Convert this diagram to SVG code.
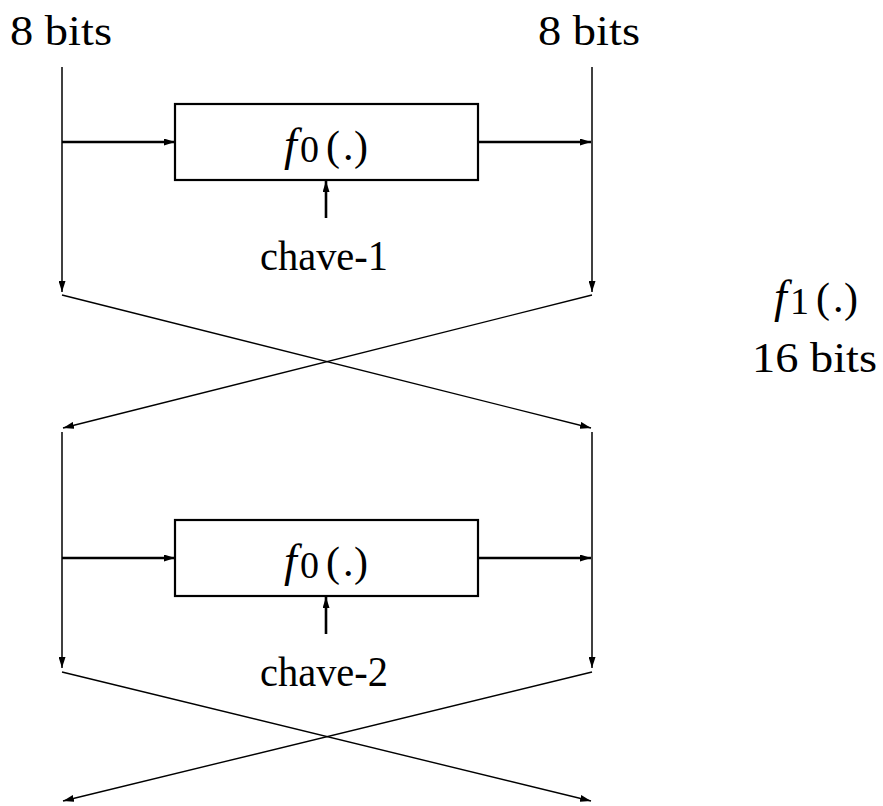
<svg xmlns="http://www.w3.org/2000/svg" width="883" height="806" viewBox="0 0 883 806">
<style>
text{font-family:'Liberation Serif','DejaVu Serif',serif;font-size:42px;fill:#000}
.box{fill:#fff;stroke:#000;stroke-width:2.2}
.thin{fill:none;stroke:#000;stroke-width:1.5}
.thick{fill:none;stroke:#000;stroke-width:2.6}
.x{fill:none;stroke:#000;stroke-width:1.4}
</style>
<defs>
<marker id="ah" viewBox="0 0 11 7" markerWidth="11" markerHeight="7" refX="11" refY="3.5" orient="auto" markerUnits="userSpaceOnUse">
<path d="M0,0 L11,3.5 L0,7 Z" fill="#000"/>
</marker>
</defs>
<rect width="883" height="806" fill="#fff"/>
<g id="connectors">
<line class="thin" x1="62" y1="67" x2="62" y2="292" marker-end="url(#ah)"/>
<line class="thin" x1="592" y1="67" x2="592" y2="292" marker-end="url(#ah)"/>
<line class="thick" x1="62" y1="142" x2="175" y2="142" marker-end="url(#ah)"/>
<line class="thick" x1="478" y1="142" x2="591" y2="142" marker-end="url(#ah)"/>
<line class="thick" x1="326" y1="218" x2="326" y2="181" marker-end="url(#ah)"/>
<line class="x" x1="62" y1="295" x2="591" y2="428" marker-end="url(#ah)"/>
<line class="x" x1="592" y1="295" x2="63" y2="428" marker-end="url(#ah)"/>
<line class="thin" x1="62" y1="432" x2="62" y2="668" marker-end="url(#ah)"/>
<line class="thin" x1="592" y1="432" x2="592" y2="668" marker-end="url(#ah)"/>
<line class="thick" x1="62" y1="558" x2="175" y2="558" marker-end="url(#ah)"/>
<line class="thick" x1="478" y1="558" x2="591" y2="558" marker-end="url(#ah)"/>
<line class="thick" x1="326" y1="634" x2="326" y2="597" marker-end="url(#ah)"/>
<line class="x" x1="62" y1="672" x2="591" y2="801" marker-end="url(#ah)"/>
<line class="x" x1="592" y1="672" x2="63" y2="801" marker-end="url(#ah)"/>
</g>
<g id="label-in-left"><text font-family="Liberation Serif, DejaVu Serif, serif" x="10" y="45" textLength="102" lengthAdjust="spacingAndGlyphs">8 bits</text></g>
<g id="label-in-right"><text font-family="Liberation Serif, DejaVu Serif, serif" x="538" y="45" textLength="102" lengthAdjust="spacingAndGlyphs">8 bits</text></g>
<g id="f0-1">
<rect class="box" x="175" y="104" width="303" height="76"/>
<text font-family="Liberation Serif, DejaVu Serif, serif" y="160"><tspan x="284" font-style="italic" font-size="46">f</tspan><tspan x="300" font-size="38" dy="2">0</tspan><tspan x="326" dy="-2">(</tspan><tspan x="343">.</tspan><tspan x="354">)</tspan></text>
</g>
<g id="key-1"><text font-family="Liberation Serif, DejaVu Serif, serif" x="260" y="270" textLength="128" lengthAdjust="spacingAndGlyphs">chave-1</text></g>
<g id="f0-2">
<rect class="box" x="175" y="520" width="303" height="76"/>
<text font-family="Liberation Serif, DejaVu Serif, serif" y="576"><tspan x="284" font-style="italic" font-size="46">f</tspan><tspan x="300" font-size="38" dy="2">0</tspan><tspan x="326" dy="-2">(</tspan><tspan x="343">.</tspan><tspan x="354">)</tspan></text>
</g>
<g id="key-2"><text font-family="Liberation Serif, DejaVu Serif, serif" x="260" y="686" textLength="128" lengthAdjust="spacingAndGlyphs">chave-2</text></g>
<g id="f1-label">
<text font-family="Liberation Serif, DejaVu Serif, serif" y="312"><tspan x="774" font-style="italic" font-size="46">f</tspan><tspan x="790" font-size="38" dy="2">1</tspan><tspan x="816" dy="-2">(</tspan><tspan x="833">.</tspan><tspan x="844">)</tspan></text>
<text font-family="Liberation Serif, DejaVu Serif, serif" x="752" y="372" textLength="125" lengthAdjust="spacingAndGlyphs">16 bits</text>
</g>
</svg>
